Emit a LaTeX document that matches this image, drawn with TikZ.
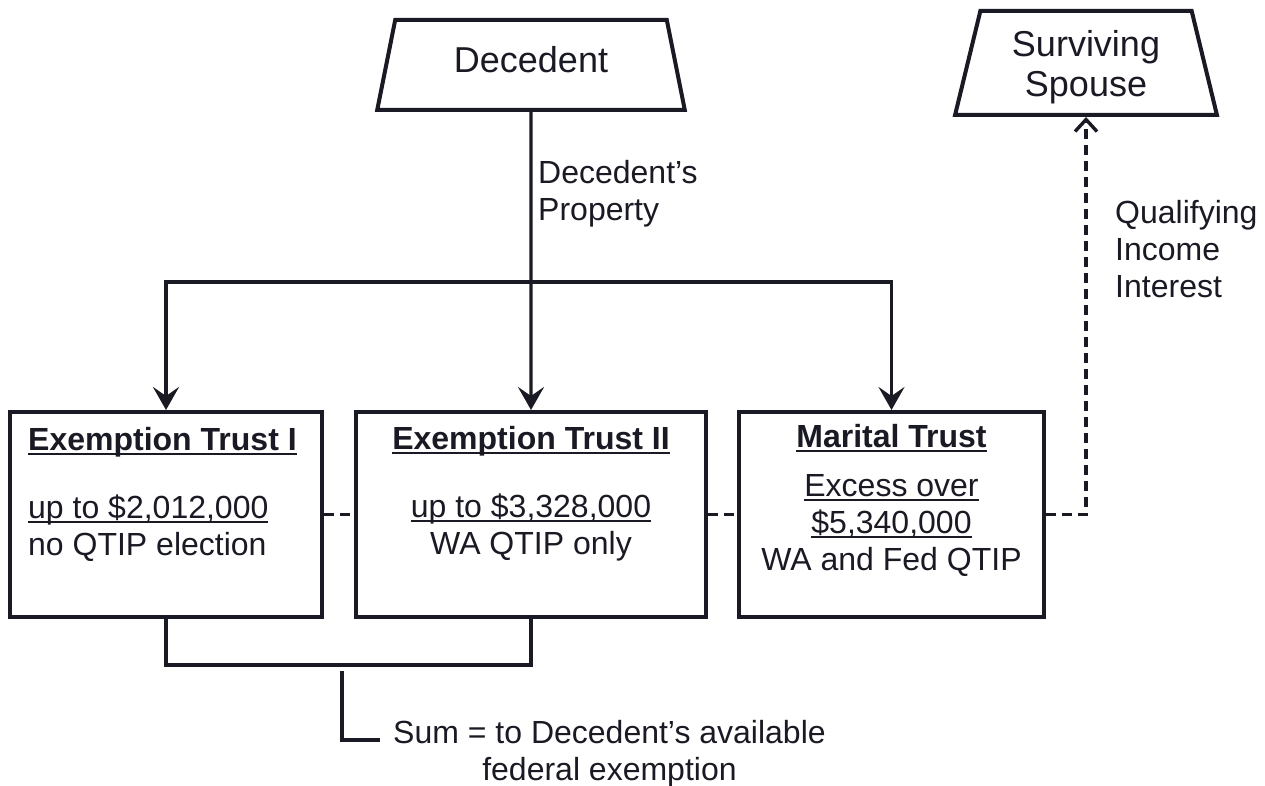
\documentclass[tikz,border=0pt]{standalone}
\usepackage{fontspec}
\setmainfont{Liberation Sans}
\usepackage{tikz}
\usetikzlibrary{positioning}
\usetikzlibrary{shapes.geometric}
\usetikzlibrary{arrows.meta}
\definecolor{ink}{HTML}{1A1A24}
\newsavebox{\ulbox}
\newcommand{\uln}[1]{\leavevmode\sbox{\ulbox}{#1}\rlap{\rule[-5pt]{\wd\ulbox}{2.6pt}}\usebox{\ulbox}}

\begin{document}
\begin{tikzpicture}[x=1pt,y=-1pt,
  every node/.style={text=ink, inner sep=0pt},
  trap/.style={draw=ink, line width=4pt, trapezium, trapezium stretches=true,
    trapezium angle=75, align=center, font=\fontsize{36}{40}\selectfont},
  trust/.style={draw=ink, line width=4pt, minimum height=205pt},
  txt/.style={font=\fontsize{32}{37}\selectfont},
  link/.style={draw=ink, line width=3.4pt},
  arr/.style={link, -{Stealth[length=23pt,width=26pt,inset=9pt]}},
  dsh/.style={link, dash pattern=on 10pt off 6pt}]

\useasboundingbox (0,0) rectangle (1265,786);

% Persons
\node[trap, minimum width=308pt, minimum height=90pt, text depth=12pt] (dec) at (531,65) {Decedent};
\node[trap, minimum width=262pt, minimum height=104pt, text depth=0pt] (sp) at (1086,63) {Surviving\\Spouse};

% Trusts
\node[trust, minimum width=312pt] (e1) at (166,514.5) {};
\node[trust, minimum width=350pt] (e2) at (531,514.5) {};
\node[trust, minimum width=305pt] (mt) at (891.5,514.5) {};

\node[txt, align=left, below right=17pt and 20pt of e1.north west] (e1txt)
  {\textbf{\uln{Exemption Trust I}}\\[31pt]\uln{up to \$2,012,000}\\no QTIP election};
\node[txt, align=center, below=16pt of e2.north] (e2txt)
  {\textbf{\uln{Exemption Trust II}}\\[31pt]\uln{up to \$3,328,000}\\WA QTIP only};
\node[txt, align=center, below=14pt of mt.north] (mttxt)
  {\textbf{\uln{Marital Trust}}\\[12pt]\uln{Excess over}\\\uln{\$5,340,000}\\WA and Fed QTIP};

% Labels
\node[txt, align=left, anchor=north west] (prop) at (538,160) {Decedent's\\Property};
\node[txt, align=left, anchor=north west] (qii) at (1115,200) {Qualifying\\Income\\Interest};
\node[txt, align=center, anchor=north west] (sum) at (393,720) {Sum = to Decedent's available\\federal exemption};

% Property split
\coordinate (split) at (531,282);
\draw[arr] (dec.south) -- (e2.north);
\draw[arr] (split) -| (e1.north);
\draw[arr] (split) -| (mt.north);

% Dashed links
\draw[dsh] (e1.east) -- (e2.west);
\draw[dsh] (e2.east) -- (mt.west);
\draw[dsh, -{Straight Barb[length=12pt,width=22pt]}] (mt.east) -| (sp.south);

% Sum bracket
\draw[link] (e1.south) -- ++(0,46) -| (e2.south);
\coordinate (brk) at (342,671);
\coordinate (sumend) at (380,740);
\draw[link] (brk) |- (sumend);

\end{tikzpicture}
\end{document}
